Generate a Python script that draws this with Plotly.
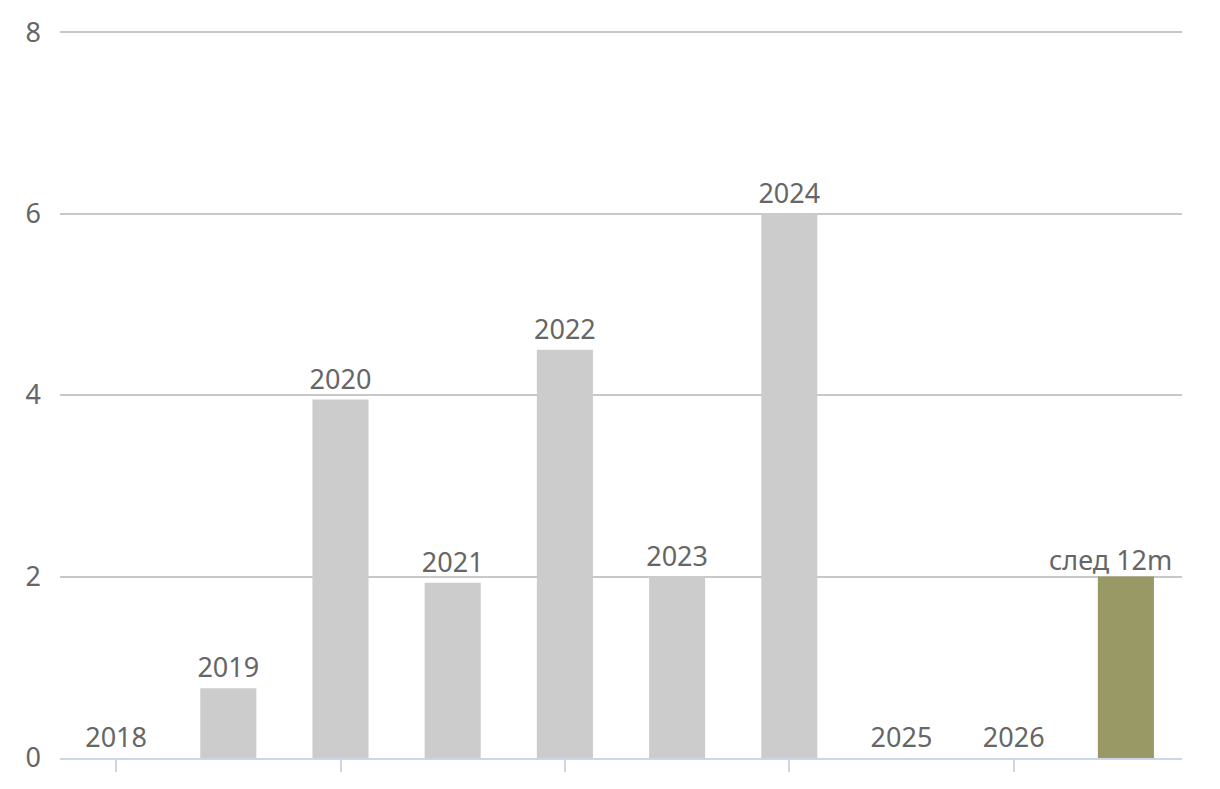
import plotly.graph_objects as go

categories = ["2018", "2019", "2020", "2021", "2022", "2023", "2024", "2025", "2026", "след 12m"]
values = [0, 0.77, 3.95, 1.93, 4.5, 2.0, 6.0, 0, 0, 2.0]
colors = ["#cccccc"] * 9 + ["#999966"]
y_ticks = [0, 2, 4, 6, 8]
x_ticks = ["2018", "2020", "2022", "2024", "2026"]

label_font = dict(size=27, color="#666666", family="Noto Sans")

fig = go.Figure(go.Bar(
    x=categories, y=values, text=categories[:-1] + [""],
    textposition="outside", cliponaxis=False,
    textfont=label_font,
    marker=dict(color=colors, line=dict(width=0)),
    hoverinfo="skip",
))

# last label is shifted left to stay inside the plot (as in the reference)
fig.add_annotation(
    x=categories[-1], y=values[-1], text=categories[-1],
    showarrow=False, yanchor="bottom", xanchor="center", xshift=-15, yshift=-3,
    font=label_font,
)

fig.update_layout(
    width=1220, height=789,
    margin=dict(l=52, r=46, t=15, b=39, autoexpand=False),
    paper_bgcolor="white", plot_bgcolor="white",
    bargap=0.5, showlegend=False,
    font=dict(family="Noto Sans", color="#666666"),
    uniformtext=dict(minsize=27, mode="show"),
)
fig.update_xaxes(
    type="category", showline=True, linecolor="#ccd6eb", linewidth=2,
    showticklabels=False, tickmode="array", tickvals=x_ticks,
    ticks="outside", ticklen=12, tickcolor="#ccd6eb", tickwidth=2,
    showgrid=False, fixedrange=True,
)
fig.update_yaxes(
    range=[0, 8.1], tickvals=y_ticks, showgrid=True, gridcolor="#c8c8c8", gridwidth=2,
    zeroline=False, showline=False, ticks="",
    tickfont=dict(size=27, color="#666666", family="Noto Sans"),
    ticklabelstandoff=18,
)

fig.write_html("out.html")
